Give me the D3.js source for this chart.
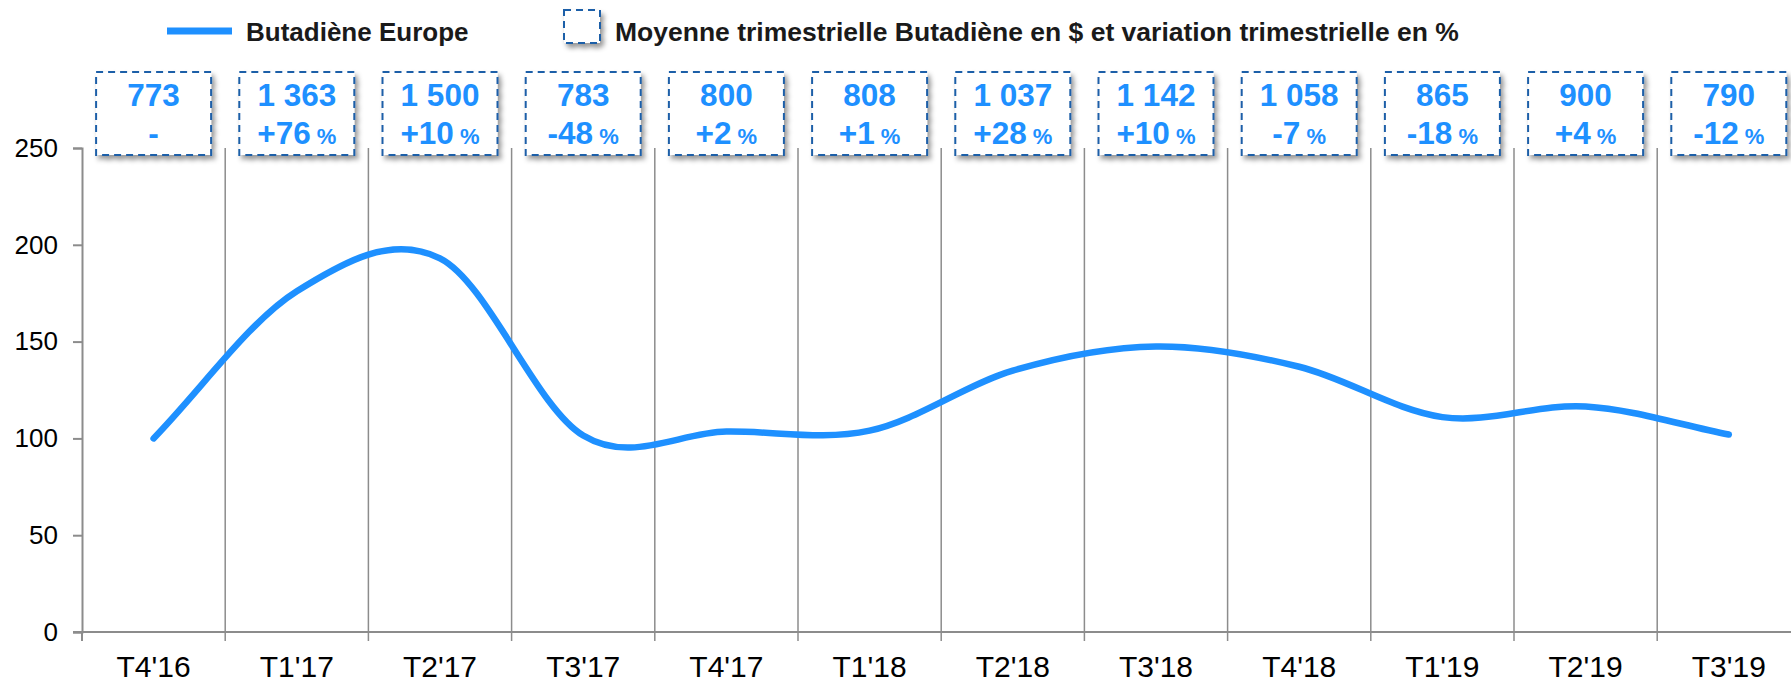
<!DOCTYPE html>
<html>
<head>
<meta charset="utf-8">
<script src="https://cdn.jsdelivr.net/npm/d3@7"></script>
<style>
  html, body { margin: 0; padding: 0; background: #ffffff; }
  svg { display: block; }
  text { font-family: Arial, "Liberation Sans", sans-serif; }
</style>
</head>
<body>
<svg id="chart" width="1791" height="684"></svg>
<script>
// Quarters on the x axis
const categories = ["T4'16", "T1'17", "T2'17", "T3'17", "T4'17", "T1'18",
                    "T2'18", "T3'18", "T4'18", "T1'19", "T2'19", "T3'19"];
// Butadiène Europe index (base 100 = T4'16)
const indexValues = [100, 176, 193, 101.5, 103.5, 104, 135, 147.5, 137, 111, 116.5, 102];
// Quarterly average price in $
const avgPrices = [773, 1363, 1500, 783, 800, 808, 1037, 1142, 1058, 865, 900, 790];
// Quarter-on-quarter change in %
const qoqChange = [null, 76, 10, -48, 2, 1, 28, 10, -7, -18, 4, -12];
// Y axis ticks
const yTicks = [0, 50, 100, 150, 200, 250];

const legendLabels = ["Butadiène Europe",
  "Moyenne trimestrielle Butadiène en $ et variation trimestrielle en %"];

const lineColor = "#1E90FF";
const boxStroke = "#1F5FA8";
const gridColor = "#8C8C8C";

const svg = d3.select("#chart");
const plotLeft = 82, plotTop = 148, plotBottom = 632, bandW = 143.2;

const x = d3.scaleBand().domain(categories)
  .range([plotLeft, plotLeft + bandW * categories.length]).padding(0);
const y = d3.scaleLinear().domain([0, 250]).range([plotBottom, plotTop]);

const fmt = d3.formatLocale({ decimal: ",", thousands: " ", grouping: [3], currency: ["", " $"] }).format(",d");

// Drop shadow used by the value boxes
const defs = svg.append("defs");
const f = defs.append("filter").attr("id", "shadow")
  .attr("x", "-20%").attr("y", "-20%").attr("width", "150%").attr("height", "150%");
f.append("feDropShadow").attr("dx", 3).attr("dy", 4).attr("stdDeviation", 2.5)
  .attr("flood-color", "#000").attr("flood-opacity", 0.4);

// Vertical separators between quarters (extend below the axis as ticks)
const boundaries = categories.slice(1).map(c => x(c)).concat([x.range()[1]]);
svg.append("g").selectAll("line").data(boundaries).join("line")
  .attr("x1", d => d).attr("x2", d => d)
  .attr("y1", plotTop).attr("y2", plotBottom + 9)
  .attr("stroke", gridColor).attr("stroke-width", 1.5);

// Y axis
const yAxis = svg.append("g").attr("transform", `translate(${plotLeft},0)`)
  .call(d3.axisLeft(y).tickValues(yTicks).tickSize(9).tickPadding(15));
yAxis.select(".domain").attr("stroke", gridColor).attr("stroke-width", 2);
yAxis.selectAll(".tick line").attr("stroke", gridColor).attr("stroke-width", 2);
yAxis.selectAll(".tick text").attr("font-size", 26).attr("fill", "#000")
  .attr("font-family", "Arial, 'Liberation Sans', sans-serif");

// X axis line
svg.append("line").attr("x1", plotLeft - 9).attr("x2", x.range()[1])
  .attr("y1", plotBottom).attr("y2", plotBottom)
  .attr("stroke", gridColor).attr("stroke-width", 2);
svg.append("line").attr("x1", plotLeft).attr("x2", plotLeft)
  .attr("y1", plotBottom).attr("y2", plotBottom + 9)
  .attr("stroke", gridColor).attr("stroke-width", 2);

// X labels
svg.append("g").selectAll("text").data(categories).join("text")
  .attr("x", d => x(d) + x.bandwidth() / 2).attr("y", 677)
  .attr("text-anchor", "middle").attr("font-size", 30).attr("fill", "#000")
  .text(d => d);

// Smooth curve with reflected end tangents (spreadsheet-style smoothing)
function smoothCurve(context) {
  let pts = [];
  return {
    areaStart() {}, areaEnd() {},
    lineStart() { pts = []; },
    point(px, py) { pts.push([+px, +py]); },
    lineEnd() {
      const n = pts.length;
      if (!n) return;
      context.moveTo(pts[0][0], pts[0][1]);
      if (n === 1) return;
      const get = i => {
        if (i < 0) return [2 * pts[0][0] - pts[1][0], 2 * pts[0][1] - pts[1][1]];
        if (i >= n) return [2 * pts[n - 1][0] - pts[n - 2][0], 2 * pts[n - 1][1] - pts[n - 2][1]];
        return pts[i];
      };
      for (let i = 0; i < n - 1; i++) {
        const p0 = get(i - 1), p1 = get(i), p2 = get(i + 1), p3 = get(i + 2);
        context.bezierCurveTo(
          p1[0] + (p2[0] - p0[0]) / 6, p1[1] + (p2[1] - p0[1]) / 6,
          p2[0] - (p3[0] - p1[0]) / 6, p2[1] - (p3[1] - p1[1]) / 6,
          p2[0], p2[1]);
      }
    }
  };
}

const line = d3.line()
  .x((d, i) => x(categories[i]) + x.bandwidth() / 2)
  .y(d => y(d))
  .curve(smoothCurve);

svg.append("path").datum(indexValues)
  .attr("d", line).attr("fill", "none")
  .attr("stroke", lineColor).attr("stroke-width", 6.5)
  .attr("stroke-linecap", "round").attr("stroke-linejoin", "round");

// Value boxes above each quarter
const boxW = 115, boxTop = 72, boxH = 83;
const boxes = svg.append("g").selectAll("g").data(categories).join("g")
  .attr("transform", d => `translate(${x(d) + x.bandwidth() / 2},0)`);
boxes.append("rect")
  .attr("x", -boxW / 2).attr("y", boxTop).attr("width", boxW).attr("height", boxH)
  .attr("fill", "#fff").attr("stroke", boxStroke).attr("stroke-width", 2)
  .attr("stroke-dasharray", "7 5").attr("filter", "url(#shadow)");
boxes.append("text").attr("y", 106).attr("text-anchor", "middle")
  .attr("font-size", 31.5).attr("font-weight", "bold").attr("fill", lineColor)
  .text((d, i) => fmt(avgPrices[i]));
const chg = boxes.append("text").attr("y", 144).attr("text-anchor", "middle")
  .attr("font-weight", "bold").attr("fill", lineColor);
chg.each(function (d, i) {
  const t = d3.select(this);
  const v = qoqChange[i];
  if (v === null) {
    t.append("tspan").attr("font-size", 31.5).text("-");
  } else {
    t.append("tspan").attr("font-size", 31.5).text((v > 0 ? "+" : "") + v);
    t.append("tspan").attr("font-size", 22).text(" %");
  }
});

// Legend
const lg = svg.append("g");
lg.append("line").attr("x1", 167).attr("x2", 232).attr("y1", 31).attr("y2", 31)
  .attr("stroke", lineColor).attr("stroke-width", 7);
lg.append("text").attr("x", 246).attr("y", 40.5)
  .attr("font-size", 26).attr("font-weight", "bold").attr("fill", "#1a1a1a")
  .text(legendLabels[0]);
lg.append("rect").attr("x", 564).attr("y", 10).attr("width", 36).attr("height", 33)
  .attr("fill", "#fff").attr("stroke", boxStroke).attr("stroke-width", 2)
  .attr("stroke-dasharray", "7 5").attr("filter", "url(#shadow)");
lg.append("text").attr("x", 615).attr("y", 40.5)
  .attr("font-size", 26.5).attr("font-weight", "bold").attr("fill", "#1a1a1a")
  .text(legendLabels[1]);
</script>
</body>
</html>
